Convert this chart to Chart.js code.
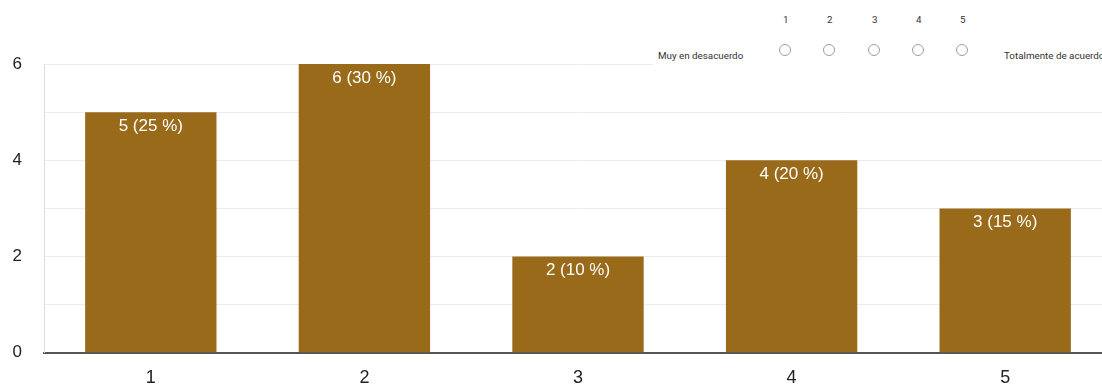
<!DOCTYPE html>
<html>
<head>
<meta charset="utf-8">
<script src="https://cdn.jsdelivr.net/npm/chart.js@4"></script>
<style>
  html, body { margin: 0; padding: 0; background: #fff; overflow: hidden; }
  #wrap { position: relative; width: 1102px; height: 385px; overflow: hidden; }
  #chart { position: absolute; left: 0; top: 0; }
  .scale { position: absolute; left: 653px; top: 0; width: 449px; height: 74px; background: #fff;
           font-family: Roboto, Arial, sans-serif; font-size: 9.8px; color: #333; }
  .scale span { position: absolute; white-space: nowrap; }
  .scale .dot { position: absolute; width: 10px; height: 10px; border: 1.5px solid #9e9e9e; border-radius: 50%; }
</style>
</head>
<body>
<div id="wrap">
  <canvas id="chart" width="1112" height="385"></canvas>
  <div class="scale" id="scale">
    <span style="left:5px; top:50px;">Muy en desacuerdo</span>
    <span style="left:351px; top:50px;">Totalmente de acuerdo</span>
  </div>
</div>
<script>
const categories = ['1', '2', '3', '4', '5'];
const counts = [5, 6, 2, 4, 3];
const percents = [25, 30, 10, 20, 15];
const yTicks = [0, 2, 4, 6];

// escala de opciones encima del grafico
const scaleBox = document.getElementById('scale');
const dotX = [132, 176, 221, 265, 309];
categories.forEach(function(c, i) {
    const num = document.createElement('span');
    num.textContent = c;
    num.style.left = (dotX[i] - 2) + 'px';
    num.style.top = '14px';
    scaleBox.appendChild(num);
    const dot = document.createElement('div');
    dot.className = 'dot';
    dot.style.left = (dotX[i] - 6) + 'px';
    dot.style.top = '44px';
    scaleBox.appendChild(dot);
});

// etiquetas dentro de cada barra
const barLabels = {
    id: 'barLabels',
    afterDatasetsDraw(chart) {
        const ctx = chart.ctx;
        const meta = chart.getDatasetMeta(0);
        ctx.save();
        ctx.fillStyle = '#ffffff';
        ctx.font = '17px Arial, "Liberation Sans", sans-serif';
        ctx.textAlign = 'center';
        ctx.textBaseline = 'middle';
        meta.data.forEach(function(bar, i) {
            ctx.fillText(counts[i] + ' (' + percents[i] + ' %)', bar.x, bar.y + 14);
        });
        ctx.restore();
    }
};

const ctx = document.getElementById('chart').getContext('2d');
new Chart(ctx, {
    type: 'bar',
    data: {
        labels: categories,
        datasets: [{
            data: counts,
            backgroundColor: '#9a6a1b',
            borderWidth: 0,
            barPercentage: 1,
            categoryPercentage: 0.615
        }]
    },
    options: {
        responsive: false,
        animation: false,
        layout: { padding: { top: 64, right: 0, left: 0, bottom: 0 } },
        plugins: { legend: { display: false }, tooltip: { enabled: false } },
        scales: {
            x: {
                grid: { display: false },
                border: { display: true, color: '#555555', width: 2 },
                ticks: { color: '#222222', font: { size: 18, family: 'Arial, "Liberation Sans", sans-serif' }, padding: 6 },
                afterFit: function(s) { s.height = 31; }
            },
            y: {
                min: 0,
                max: 6,
                grid: { color: '#ececec', lineWidth: 1, drawTicks: false },
                border: { display: true, color: '#dddddd' },
                ticks: {
                    stepSize: 1,
                    color: '#222222',
                    padding: 22,
                    font: { size: 17, family: 'Arial, "Liberation Sans", sans-serif' },
                    callback: function(v) { return yTicks.includes(v) ? String(v) : ''; }
                },
                afterFit: function(s) { s.width = 44; }
            }
        }
    },
    plugins: [barLabels]
});
</script>
</body>
</html>
